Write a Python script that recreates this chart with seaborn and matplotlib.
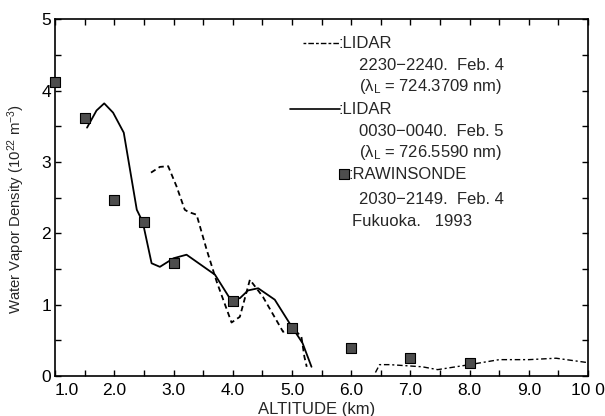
import numpy as np
import pandas as pd
import matplotlib
matplotlib.use('Agg')
import matplotlib.pyplot as plt
import seaborn as sns

# Rawinsonde (squares)
raw_alt = [1.0, 1.5, 2.0, 2.5, 3.0, 4.0, 5.0, 6.0, 7.0, 8.0]
raw_dens = [4.12, 3.62, 2.47, 2.16, 1.58, 1.05, 0.67, 0.39, 0.26, 0.18]

# LIDAR 0030-0040 Feb. 5 (solid)
lid2_alt = [1.54, 1.70, 1.83, 1.98, 2.16, 2.38, 2.48, 2.63, 2.77, 3.0, 3.22,
            3.70, 3.95, 4.12, 4.26, 4.43, 4.71, 4.96, 5.18, 5.33]
lid2_dens = [3.48, 3.72, 3.82, 3.69, 3.41, 2.33, 2.16, 1.58, 1.53, 1.65, 1.70,
             1.42, 1.09, 1.09, 1.20, 1.23, 1.07, 0.74, 0.46, 0.13]

# LIDAR 2230-2240 Feb. 4 (dashed), two pieces
lid1a_alt = [2.62, 2.77, 2.91, 3.05, 3.19, 3.25, 3.39, 3.56, 3.73, 3.98, 4.12,
             4.29, 4.51, 4.85, 5.02, 5.16, 5.21, 5.25]
lid1a_dens = [2.85, 2.93, 2.94, 2.66, 2.33, 2.30, 2.26, 1.77, 1.32, 0.75, 0.83,
              1.35, 1.11, 0.62, 0.67, 0.55, 0.27, 0.13]
lid1b_alt = [6.41, 6.48, 6.65, 7.2, 7.46, 8.0, 8.5, 9.0, 9.46, 9.98]
lid1b_dens = [0.05, 0.16, 0.16, 0.13, 0.09, 0.16, 0.23, 0.23, 0.25, 0.19]

x_ticks = [1, 2, 3, 4, 5, 6, 7, 8, 9, 10]
x_labels = ['1.0', '2.0', '3.0', '4.0', '5.0', '6.0', '7.0', '8.0', '9.0', '10 0']
y_ticks = [0, 1, 2, 3, 4, 5]

sns.set_style('ticks')
plt.rcParams['font.family'] = ['Liberation Sans', 'DejaVu Sans']
plt.rcParams['mathtext.fontset'] = 'custom'
plt.rcParams['mathtext.rm'] = 'Liberation Sans'
plt.rcParams['mathtext.it'] = 'Liberation Sans'
plt.rcParams.update({
    'xtick.direction': 'in', 'ytick.direction': 'in',
    'xtick.top': True, 'ytick.right': True,
    'xtick.major.size': 3.5, 'xtick.minor.size': 3.5,
    'ytick.major.size': 3.5, 'ytick.minor.size': 3.5,
    'xtick.major.width': 1.0, 'xtick.minor.width': 1.0,
    'ytick.major.width': 1.0, 'ytick.minor.width': 1.0,
    'xtick.color': 'black', 'ytick.color': 'black',
})

fig = plt.figure(figsize=(6.05, 4.16), dpi=100)
ax = fig.add_axes([0.091, 0.096, 0.881, 0.858])

sns.lineplot(x=lid2_alt, y=lid2_dens, ax=ax, color='black', lw=1.3,
             sort=False, estimator=None)
sns.lineplot(x=lid1a_alt, y=lid1a_dens, ax=ax, color='black', lw=1.3,
             sort=False, estimator=None, linestyle=(0, (3, 2)))
sns.lineplot(x=lid1b_alt, y=lid1b_dens, ax=ax, color='black', lw=1.0,
             sort=False, estimator=None, linestyle=(0, (4, 2, 1.5, 2)))
sns.scatterplot(x=raw_alt, y=raw_dens, ax=ax, marker='s', s=42,
                color='#4d4d4d', edgecolor='black', linewidth=0.8, zorder=5,
                clip_on=False)

ax.set_xlim(1.0, 10.0)
ax.set_ylim(0, 5)
ax.set_xticks(x_ticks)
ax.set_xticklabels(x_labels)
ax.set_xticks(np.arange(1.5, 10, 1.0), minor=True)
ax.set_yticks(y_ticks)
ax.set_yticks(np.arange(0.5, 5, 1.0), minor=True)
ax.tick_params(which='both', direction='in', top=True, right=True,
               bottom=True, left=True, length=4, width=1, colors='black')
ax.tick_params(axis='both', which='major', labelsize=12.5)
ax.tick_params(axis='x', which='major', pad=5)
ax.tick_params(axis='y', which='major', pad=3)
ax.get_xticklabels()[0].set_horizontalalignment('left')
for s in ax.spines.values():
    s.set_linewidth(1.2)
    s.set_color('black')

ax.set_xlabel('ALTITUDE (km)', fontsize=12)
ax.xaxis.set_label_coords(0.49, -0.072)
ax.set_ylabel('Water Vapor Density (10$^{22}$ m$^{-3}$)', fontsize=10.7)
ax.yaxis.set_label_coords(-0.053, 0.468)

# legend drawn as text
fs = 12
ax.plot([5.18, 5.81], [4.66, 4.66], color='black', lw=1.0, ls=(0, (2, 1.5, 4, 1.5)))
ax.text(5.79, 4.66, ':LIDAR', fontsize=fs, va='center')
ax.text(6.14, 4.35, '2230\u22122240.  Feb. 4', fontsize=fs, va='center')
ax.text(6.14, 4.05, '(\u03bb$_L$ = 724.3709 nm)', fontsize=fs, va='center')
ax.plot([4.96, 5.81], [3.74, 3.74], color='black', lw=1.2)
ax.text(5.79, 3.74, ':LIDAR', fontsize=fs, va='center')
ax.text(6.14, 3.43, '0030\u22120040.  Feb. 5', fontsize=fs, va='center')
ax.text(6.14, 3.13, '(\u03bb$_L$ = 726.5590 nm)', fontsize=fs, va='center')
ax.scatter([5.88], [2.83], marker='s', s=42, color='#4d4d4d', edgecolor='black', lw=0.8)
ax.text(5.95, 2.83, ':RAWINSONDE', fontsize=fs, va='center')
ax.text(6.14, 2.47, '2030\u22122149.  Feb. 4', fontsize=fs, va='center')
ax.text(6.01, 2.16, 'Fukuoka.   1993', fontsize=fs, va='center')

fig.savefig('out.png', dpi=100)
